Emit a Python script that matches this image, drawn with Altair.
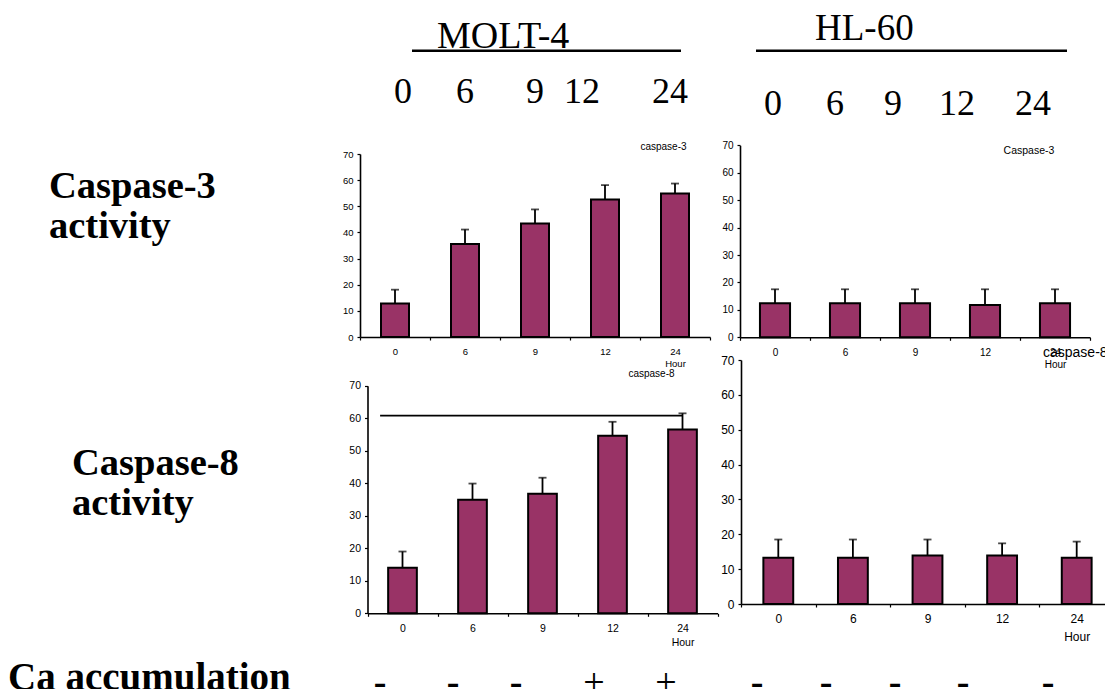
import altair as alt
import pandas as pd

# ---------------- data ----------------
hours = ["0", "6", "9", "12", "24"]
y_ticks = [0, 10, 20, 30, 40, 50, 60, 70]

molt4_casp3 = [12.8, 35.6, 43.4, 52.6, 54.9]
molt4_casp3_upper = [18.1, 41.1, 48.8, 58.1, 58.7]
hl60_casp3 = [12.4, 12.4, 12.4, 11.8, 12.4]
hl60_casp3_upper = [17.5, 17.5, 17.5, 17.5, 17.5]
molt4_casp8 = [14.0, 34.9, 36.8, 54.6, 56.5]
molt4_casp8_upper = [19.0, 39.9, 41.7, 58.9, 61.5]
hl60_casp8 = [13.3, 13.3, 13.9, 13.9, 13.3]
hl60_casp8_upper = [18.5, 18.5, 18.5, 17.4, 17.9]
molt4_casp8_bracket = [60.8]

cell_lines = ["MOLT-4", "HL-60"]
header_hours = ["0", "6", "9", "12", "24"]
row_labels = ["Caspase-3\nactivity", "Caspase-8\nactivity"]
panel_titles = ["caspase-3", "Caspase-3", "caspase-8", "caspase-8"]
ca_label = "Ca accumulation"
ca_signs = ["-", "-", "-", "+", "+", "-", "-", "-", "-", "-"]

# ---------------- layout / style ----------------
W, H = 1097, 681
BAR = "#993366"
SANS = "Liberation Sans"
SERIF = "Liberation Serif"


def panel(values, upper, x_range, y_range, band_frac, lab_size, lab_pad, line_h, bracket=None):
    df = pd.DataFrame({"hour": hours, "value": values, "upper": upper})

    def xs():
        return alt.Scale(domain=hours, range=x_range, paddingInner=0, paddingOuter=0)

    def ys():
        return alt.Scale(domain=[0, 70], range=y_range, nice=False, zero=True)

    xaxis = alt.Axis(
        orient="bottom", offset=y_range[0] - H, title=None, tickBand="extent",
        tickSize=3, labelPadding=lab_pad, labelFont=SANS, labelFontSize=lab_size,
        labelColor="black", labelAngle=0, labelBaseline="top", labelLineHeight=line_h,
        labelExpr="datum.label == '24' ? ['24', 'Hour'] : datum.label",
        domainColor="black", domainWidth=1.6, tickColor="black", tickWidth=1.2,
        grid=False, labelOverlap=False,
    )
    yaxis = alt.Axis(
        orient="left", offset=-x_range[0], title=None, values=y_ticks, tickSize=3,
        labelPadding=4, labelFont=SANS, labelFontSize=lab_size, labelColor="black",
        domainColor="black", domainWidth=1.6, tickColor="black", tickWidth=1.2,
        grid=False, labelOverlap=False,
    )
    base = alt.Chart(df)
    bars = base.mark_bar(
        width=alt.RelativeBandSize(band_frac), fill=BAR, stroke="black", strokeWidth=2
    ).encode(
        x=alt.X("hour:N", scale=xs(), axis=xaxis),
        y=alt.Y("value:Q", scale=ys(), axis=yaxis),
    )
    err = base.mark_rule(color="black", strokeWidth=1.8).encode(
        x=alt.X("hour:N", scale=xs(), axis=None),
        y=alt.Y("value:Q", scale=ys(), axis=None),
        y2="upper:Q",
    )
    cap = base.mark_tick(color="black", thickness=1.8, size=8, orient="horizontal").encode(
        x=alt.X("hour:N", scale=xs(), axis=None),
        y=alt.Y("upper:Q", scale=ys(), axis=None),
    )
    layers = [bars, err, cap]
    if bracket is not None:
        bdf = pd.DataFrame({"start": [hours[0]], "end": [hours[-1]], "level": bracket})
        line = alt.Chart(bdf).mark_rule(color="black", strokeWidth=1.8).encode(
            x=alt.X("start:N", scale=xs(), axis=None, bandPosition=0.18),
            x2="end:N",
            y=alt.Y("level:Q", scale=ys(), axis=None),
        )
        layers.append(line)
    return layers


def text_mark(s, x, y, size, font=SERIF, weight="normal", align="left", line_height=None):
    kw = dict(align=align, baseline="alphabetic", font=font, fontSize=size,
              fontWeight=weight, color="black")
    if "\n" in s:
        kw.update(lineBreak="\n", lineHeight=line_height)
    return alt.Chart(pd.DataFrame({"t": [s]})).mark_text(**kw).encode(
        x=alt.value(x), y=alt.value(y), text="t:N"
    )


def hline(x1, x2, y, w=2.5):
    return alt.Chart(pd.DataFrame({"a": [0]})).mark_rule(color="black", strokeWidth=w).encode(
        x=alt.value(x1), x2=alt.value(x2), y=alt.value(y)
    )


layers = []
layers += panel(molt4_casp3, molt4_casp3_upper, [352, 702], [329, 146], 0.40, 9.5, 6, 12)
layers += panel(hl60_casp3, hl60_casp3_upper, [732, 1082], [329.3, 137.3], 0.43, 10, 7, 12)
layers += panel(molt4_casp8, molt4_casp8_upper, [359.5, 709.5], [605.3, 377.7], 0.41, 10.5, 7, 14,
                bracket=molt4_casp8_bracket)
layers += panel(hl60_casp8, hl60_casp8_upper, [733, 1106], [596, 352], 0.40, 12, 6, 18)

# panel titles
layers.append(text_mark(panel_titles[0], 655.5, 142, 10, font=SANS, align="center"))
layers.append(text_mark(panel_titles[1], 1021, 146, 10.5, font=SANS, align="center"))
layers.append(text_mark(panel_titles[2], 643.5, 368.7, 10, font=SANS, align="center"))
layers.append(text_mark(panel_titles[3], 1035, 348.7, 14, font=SANS, align="left"))

# cell line headers
layers.append(text_mark(cell_lines[0], 429, 40, 38))
layers.append(text_mark(cell_lines[1], 807, 32, 37))
layers.append(hline(404, 673, 42.7))
layers.append(hline(748, 1059, 42.7))

molt_x = [395, 457, 527, 574, 662]
hl_x = [765, 827, 885, 949, 1025]
for lab, x in zip(header_hours, molt_x):
    layers.append(text_mark(lab, x, 95, 36, align="center"))
for lab, x in zip(header_hours, hl_x):
    layers.append(text_mark(lab, x, 107, 36, align="center"))

# row labels
layers.append(text_mark(row_labels[0], 41, 190, 38.5, weight="bold", line_height=40))
layers.append(text_mark(row_labels[1], 64, 467, 38.5, weight="bold", line_height=40))

# Ca accumulation row
layers.append(text_mark(ca_label, 0, 682, 39, weight="bold"))
sign_x = [372, 445, 508, 586, 658, 749, 818, 887, 955, 1040]
for s, x in zip(ca_signs, sign_x):
    if s == "+":
        layers.append(text_mark(s, x, 687, 38, align="center"))
    else:
        layers.append(text_mark(s, x, 686, 38, weight="bold", align="center"))

chart = (
    alt.layer(*layers)
    .resolve_scale(x="independent", y="independent")
    .resolve_axis(x="independent", y="independent")
    .properties(width=W, height=H, autosize=alt.AutoSizeParams(type="none"), padding=0,
                background="white")
    .configure_view(stroke=None)
    .configure_axis(grid=False)
)

chart.save("out.html", embed_options={"renderer": "svg", "actions": False})
